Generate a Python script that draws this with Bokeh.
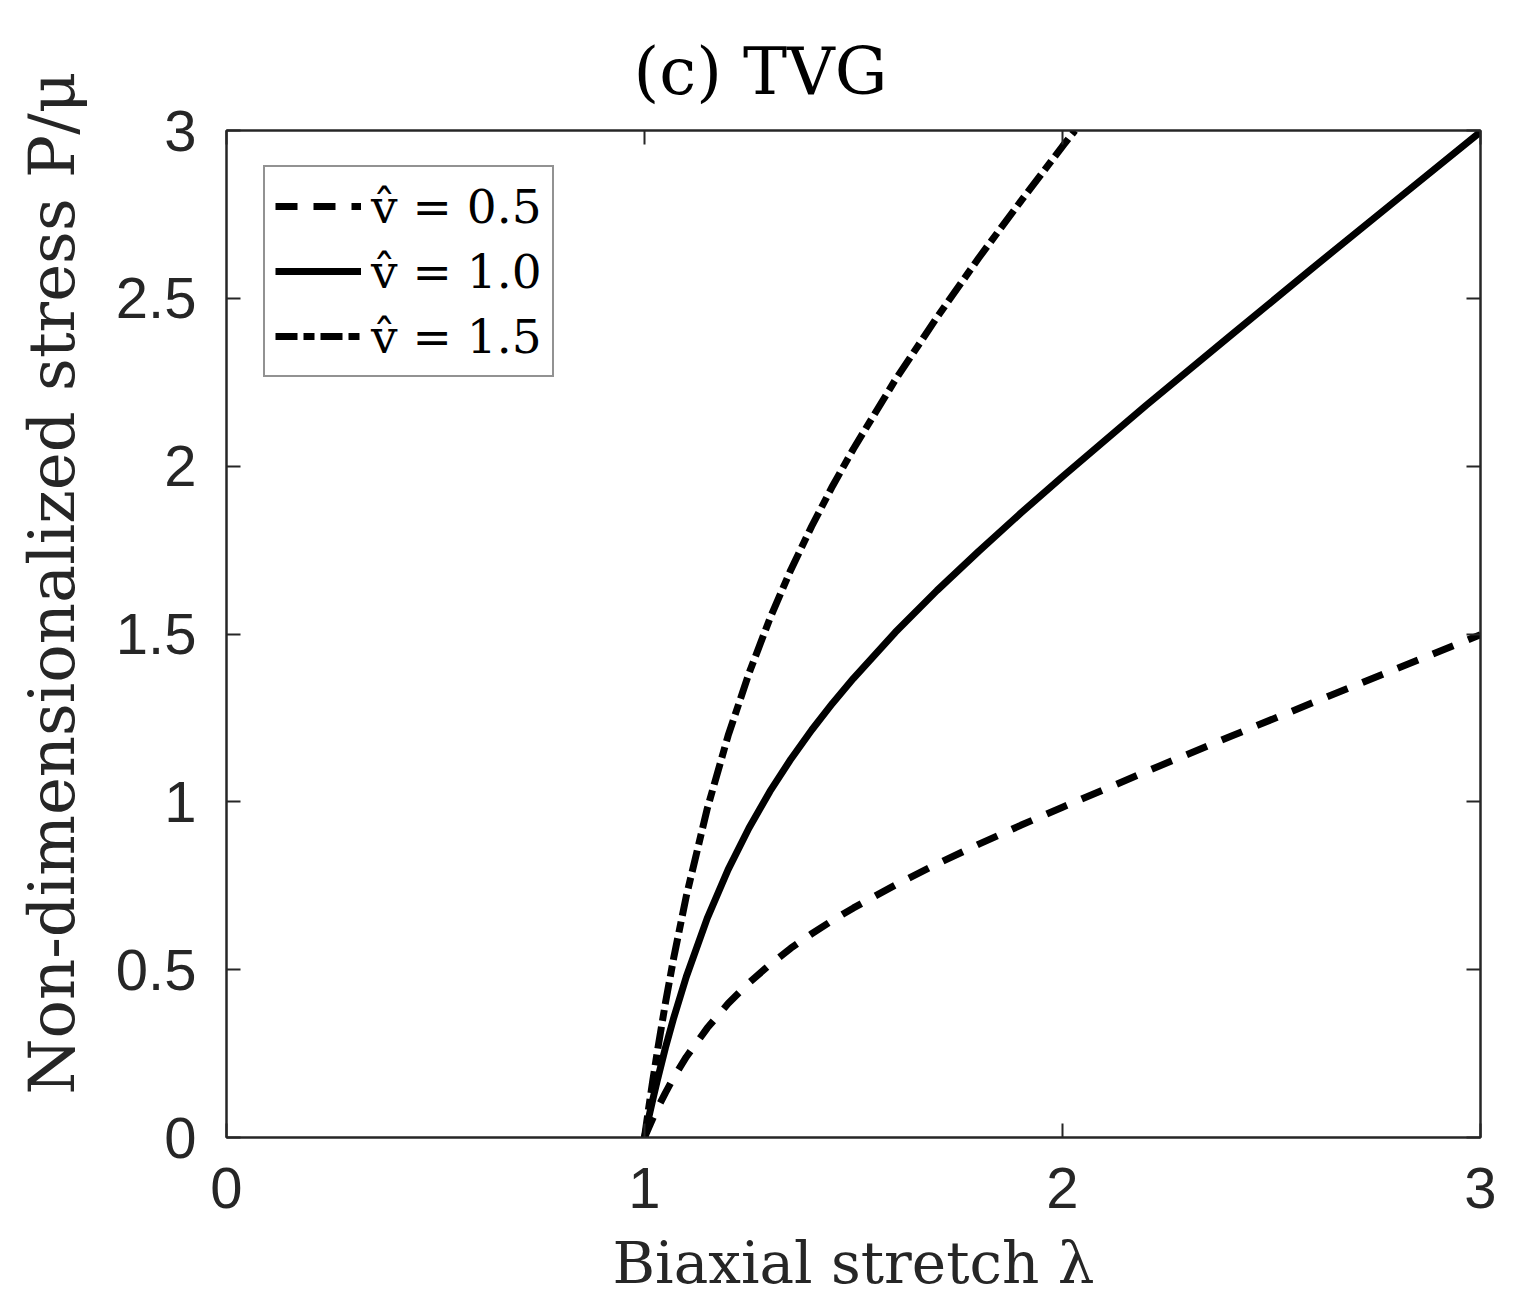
from bokeh.plotting import figure
from bokeh.models import LinearAxis, FixedTicker, Legend, LegendItem, Range1d, CustomJSTickFormatter
from bokeh.embed import file_html
from bokeh.resources import INLINE

# stretch values (lambda)
lam = [1.0, 1.01, 1.02, 1.03, 1.05, 1.07, 1.1, 1.15, 1.2, 1.25, 1.3, 1.35, 1.4, 1.45,
       1.5, 1.6, 1.7, 1.8, 1.9, 2.0, 2.2, 2.4, 2.6, 2.8, 3.0]
# v = 0.5 (dashed)
p_v05 = [0.0, 0.029, 0.057, 0.084, 0.133, 0.179, 0.240, 0.326, 0.399, 0.461, 0.515, 0.564,
         0.607, 0.647, 0.684, 0.752, 0.815, 0.874, 0.930, 0.984, 1.090, 1.194, 1.296, 1.397, 1.498]
# v = 1.0 (solid)
p_v10 = [0.0, 0.059, 0.114, 0.167, 0.267, 0.357, 0.479, 0.653, 0.798, 0.922, 1.031, 1.127,
         1.214, 1.294, 1.368, 1.505, 1.630, 1.747, 1.860, 1.969, 2.181, 2.387, 2.592, 2.794, 2.996]
# v = 1.5 (dash-dot), visible until it leaves the top of the axes
lam_v15 = [1.0, 1.01, 1.02, 1.03, 1.05, 1.07, 1.1, 1.15, 1.2, 1.25, 1.3, 1.35, 1.4, 1.45,
           1.5, 1.6, 1.7, 1.8, 1.9, 2.0, 2.03]
p_v15 = [0.0, 0.088, 0.171, 0.251, 0.400, 0.536, 0.719, 0.979, 1.197, 1.383, 1.546, 1.691,
         1.821, 1.941, 2.052, 2.257, 2.444, 2.621, 2.789, 2.953, 3.0]

x_ticks = [0, 1, 2, 3]
y_ticks = [0, 0.5, 1, 1.5, 2, 2.5, 3]
y_tick_labels = {0: "0", 0.5: "0.5", 1: "1", 1.5: "1.5", 2: "2", 2.5: "2.5", 3: "3"}
legend_labels = ["v\u0302 = 0.5", "v\u0302 = 1.0", "v\u0302 = 1.5"]
title_text = "(c) TVG"
x_label = "Biaxial stretch \u03bb"
y_label = "\u00a0\u00a0\u00a0\u00a0\u00a0Non-dimensionalized stress P/\u03bc"

AX = "#262626"
TICK_FONT = "Liberation Sans"
SERIF = "DejaVu Serif"

p = figure(frame_width=1254, frame_height=1007,
           x_range=Range1d(0, 3), y_range=Range1d(0, 3),
           output_backend="svg", toolbar_location=None,
           min_border_left=226, min_border_top=130, min_border_right=33, min_border_bottom=166,
           title=title_text, x_axis_label=x_label, y_axis_label=y_label)
p.xgrid.visible = False
p.ygrid.visible = False
p.outline_line_color = AX
p.outline_line_width = 2
p.background_fill_color = "white"
p.border_fill_color = "white"

p.title.text_font = SERIF
p.title.text_font_size = "66px"
p.title.text_font_style = "normal"
p.title.text_color = "black"
p.title.align = "left"
p.title.offset = 407
p.title.standoff = 42

def style_axis(ax, ticks, show_labels=True):
    ax.ticker = FixedTicker(ticks=ticks)
    ax.axis_line_color = AX
    ax.axis_line_width = 2
    ax.major_tick_line_color = AX
    ax.major_tick_line_width = 2
    ax.major_tick_in = 14
    ax.major_tick_out = 0
    ax.minor_tick_line_color = None
    ax.major_label_text_font = TICK_FONT
    ax.major_label_text_color = AX
    ax.major_label_text_font_size = "58px"
    ax.major_label_standoff = 30 if show_labels else 0
    if not show_labels:
        ax.formatter = CustomJSTickFormatter(code="return ''")
    ax.axis_label_text_font = SERIF
    ax.axis_label_text_font_style = "normal"
    ax.axis_label_text_font_size = "58px"
    ax.axis_label_text_color = AX
    ax.axis_label_standoff = 18

style_axis(p.xaxis[0], x_ticks)
style_axis(p.yaxis[0], y_ticks)
p.yaxis[0].major_label_overrides = y_tick_labels
p.yaxis[0].axis_label_standoff = 24
p.yaxis[0].axis_label_text_font_size = "64px"

top = LinearAxis()
style_axis(top, x_ticks, show_labels=False)
right = LinearAxis()
style_axis(right, y_ticks, show_labels=False)
p.add_layout(top, "above")
p.add_layout(right, "right")

r1 = p.line(lam, p_v05, line_color="black", line_width=7, line_dash="22 16", line_cap="butt")
r2 = p.line(lam, p_v10, line_color="black", line_width=7)
r3 = p.line(lam_v15, p_v15, line_color="black", line_width=7, line_dash="22 6 11 6", line_cap="butt")

legend = Legend(items=[LegendItem(label=legend_labels[0], renderers=[r1]),
                       LegendItem(label=legend_labels[1], renderers=[r2]),
                       LegendItem(label=legend_labels[2], renderers=[r3])],
                location=(37, 760))
legend.label_text_font = SERIF
legend.label_text_font_size = "47px"
legend.label_text_color = "black"
legend.glyph_width = 86
legend.glyph_height = 58
legend.label_height = 58
legend.label_standoff = 10
legend.spacing = 7
legend.padding = 10
legend.margin = 0
legend.border_line_color = AX
legend.border_line_width = 2
legend.background_fill_color = "white"
legend.background_fill_alpha = 1.0
p.add_layout(legend)

open("out.html", "w").write(file_html(p, INLINE))
